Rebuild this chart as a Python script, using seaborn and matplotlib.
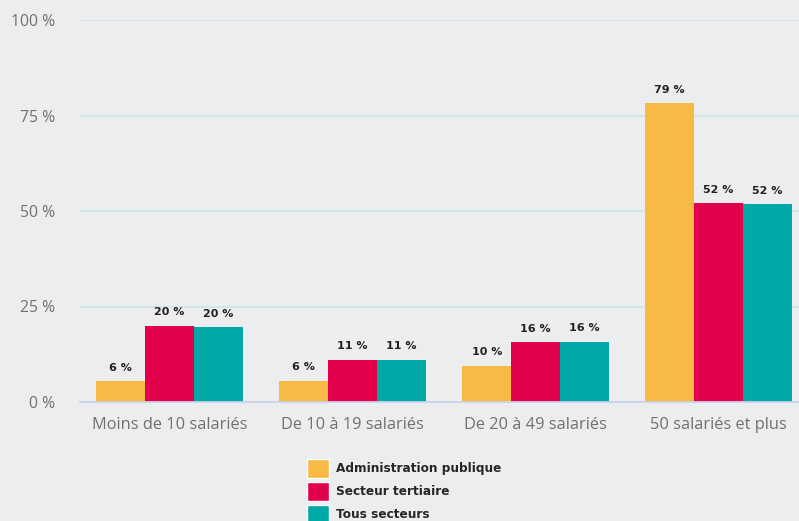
import matplotlib
matplotlib.use("Agg")
import matplotlib.pyplot as plt
import seaborn as sns
import pandas as pd
from matplotlib.patches import Patch

categories = ["Moins de 10 salariés", "De 10 à 19 salariés",
              "De 20 à 49 salariés", "50 salariés et plus"]
series = ["Administration publique", "Secteur tertiaire", "Tous secteurs"]
admin = [5.5, 5.6, 9.5, 78.3]
tertiaire = [20.0, 11.1, 15.6, 52.1]
tous = [19.6, 11.1, 15.8, 51.8]
labels = {
    "Administration publique": ["6 %", "6 %", "10 %", "79 %"],
    "Secteur tertiaire": ["20 %", "11 %", "16 %", "52 %"],
    "Tous secteurs": ["20 %", "11 %", "16 %", "52 %"],
}
yticks = [0, 25, 50, 75, 100]
colors = ["#F9BA45", "#E2004A", "#00A9A6"]

df = pd.DataFrame({
    "categorie": categories * 3,
    "serie": [s for s in series for _ in categories],
    "valeur": admin + tertiaire + tous,
})

bg = "#ECEDEF"
sns.set_style("white", {"axes.facecolor": bg, "figure.facecolor": bg})
plt.rcParams["font.family"] = ["Open Sans", "DejaVu Sans"]

fig = plt.figure(figsize=(7.99, 5.21), dpi=100)
ax = fig.add_axes([80 / 799, 1 - 402 / 521, 1 - 80 / 799, 382 / 521])
sns.barplot(data=df, x="categorie", y="valeur", hue="serie",
            hue_order=series, order=categories, palette=colors,
            width=0.8, saturation=1, ax=ax, legend=False,
            edgecolor="none", linewidth=0)

# labels au-dessus des barres
for cont, s in zip(ax.containers, series):
    ax.bar_label(cont, labels=labels[s], padding=6, fontsize=8,
                 fontweight="bold", color="#222222", family="DejaVu Sans")

ax.set_ylim(0, 100)
ax.set_xlim(-0.49, 3.44)
ax.set_yticks(yticks)
ax.set_yticklabels([f"{t} %" for t in yticks])
ax.set_xlabel("")
ax.set_ylabel("")
ax.yaxis.grid(True, color="#CDE6E8", linewidth=1.3)
ax.set_axisbelow(True)
for sp in ["top", "right", "left"]:
    ax.spines[sp].set_visible(False)
ax.spines["bottom"].set_color("#CAD3EC")
ax.spines["bottom"].set_linewidth(1.3)
ax.tick_params(axis="both", length=0, colors="#707070")
ax.tick_params(axis="y", pad=18, labelsize=11.3)
ax.tick_params(axis="x", pad=11, labelsize=11.8)

handles = [Patch(facecolor=c, label=s) for c, s in zip(colors, series)]
fig.legend(handles=handles, loc="upper left",
           bbox_to_anchor=(307 / 799, 1 - 459 / 521), frameon=False,
           prop={"family": "DejaVu Sans", "weight": "bold", "size": 8.75},
           handlelength=1.8, handleheight=2.05, handletextpad=0.6,
           labelspacing=0.3, borderpad=0, borderaxespad=0)

fig.savefig("out.png", dpi=100, facecolor=bg)
